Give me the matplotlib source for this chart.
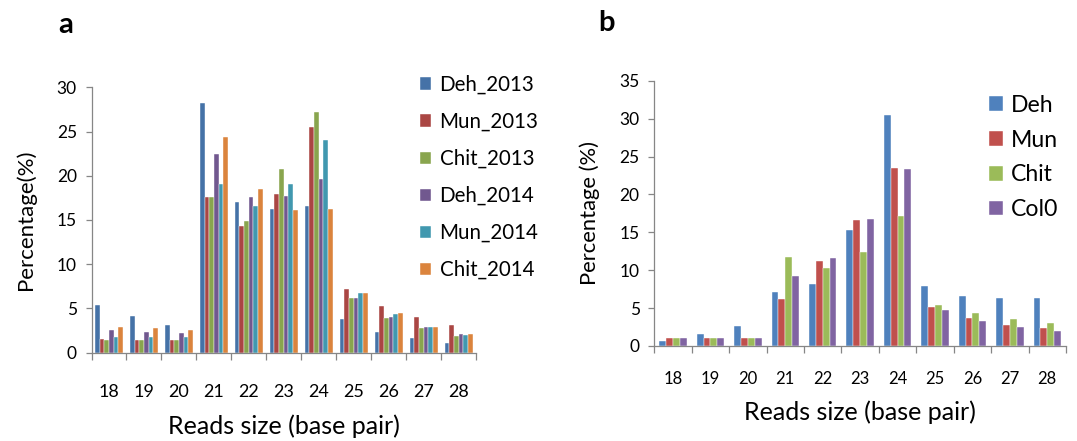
import numpy as np
import matplotlib
matplotlib.use("Agg")
import matplotlib.pyplot as plt
from matplotlib.ticker import FixedLocator, NullFormatter

plt.rcParams['font.family'] = ['Lato', 'DejaVu Sans']

# Read lengths (base pairs)
sizes = ['18', '19', '20', '21', '22', '23', '24', '25', '26', '27', '28']

# Panel a: percentage of reads per size, by site and year
deh_2013 = [5.4, 4.1, 3.13, 28.27, 17.0, 16.21, 16.58, 3.81, 2.34, 1.62, 1.09]
mun_2013 = [1.5, 1.43, 1.47, 17.56, 14.36, 17.94, 25.56, 7.2, 5.28, 4.07, 3.13]
chit_2013 = [1.43, 1.4, 1.4, 17.56, 14.93, 20.8, 27.25, 6.18, 3.92, 2.79, 1.92]
deh_2014 = [2.5, 2.34, 2.19, 22.43, 17.56, 17.72, 19.64, 6.18, 4.07, 2.83, 2.07]
mun_2014 = [1.7, 1.7, 1.7, 19.07, 16.55, 19.04, 24.05, 6.71, 4.33, 2.86, 1.96]
chit_2014 = [2.94, 2.75, 2.53, 24.43, 18.47, 16.1, 16.25, 6.71, 4.5, 2.94, 2.07]
labels_a = ['Deh_2013', 'Mun_2013', 'Chit_2013', 'Deh_2014', 'Mun_2014', 'Chit_2014']
colors_a = ['#4572A7', '#AA4643', '#89A54E', '#71588F', '#4198AF', '#DB843D']

# Panel b: percentage of reads per size, by site
deh = [0.62, 1.63, 2.6, 7.13, 8.14, 15.31, 30.44, 7.92, 6.56, 6.34, 6.34]
mun = [1.01, 1.0, 1.06, 6.16, 11.22, 16.59, 23.54, 5.19, 3.65, 2.82, 2.38]
chit = [1.01, 1.0, 1.0, 11.75, 10.25, 12.41, 17.16, 5.46, 4.31, 3.56, 2.99]
col0 = [1.06, 1.06, 1.06, 9.24, 11.61, 16.81, 23.4, 4.75, 3.3, 2.55, 2.02]
labels_b = ['Deh', 'Mun', 'Chit', 'Col0']
colors_b = ['#4F81BD', '#C0504D', '#9BBB59', '#8064A2']

series_a = [deh_2013, mun_2013, chit_2013, deh_2014, mun_2014, chit_2014]
series_b = [deh, mun, chit, col0]

W, H = 1077, 441
fig = plt.figure(figsize=(W / 100, H / 100), dpi=100)

def px_axes(left, top, right, bottom):
    return fig.add_axes([left / W, 1 - bottom / H, (right - left) / W, (bottom - top) / H])

ax_a = px_axes(91.5, 87.3, 476, 352.5)
ax_b = px_axes(654.3, 80.8, 1066, 346)

spine_col = '#868686'

def grouped_bars(ax, series, colors, labels, group_frac):
    n = len(series)
    x = np.arange(len(sizes))
    w = group_frac / n
    for i, (vals, c, lab) in enumerate(zip(series, colors, labels)):
        off = (i - (n - 1) / 2) * w
        ax.bar(x + off, vals, width=w, color=c, edgecolor='white',
               linewidth=0.3, label=lab, zorder=2)
    ax.set_xlim(-0.5, len(sizes) - 0.5)
    ax.set_xticks(x)
    ax.set_xticklabels(sizes)
    ax.xaxis.set_minor_locator(FixedLocator(np.arange(-0.5, len(sizes), 1.0)))
    ax.xaxis.set_minor_formatter(NullFormatter())
    for s in ['top', 'right']:
        ax.spines[s].set_visible(False)
    for s in ['left', 'bottom']:
        ax.spines[s].set_color(spine_col)
        ax.spines[s].set_linewidth(0.9)
    ax.tick_params(axis='x', which='major', length=0)
    ax.tick_params(axis='x', which='minor', length=5, width=0.9, color=spine_col, direction='out')
    ax.tick_params(axis='y', which='major', length=4.5, width=0.9, color=spine_col, direction='out')

grouped_bars(ax_a, series_a, colors_a, labels_a, 0.8)
ax_a.set_ylim(0, 30)
ax_a.set_yticks(range(0, 31, 5))
ax_a.tick_params(axis='y', labelsize=12.5, pad=6)
ax_a.tick_params(axis='x', which='major', labelsize=13, pad=23)
ax_a.set_ylabel('Percentage(%)', fontsize=16)
ax_a.set_xlabel('Reads size (base pair)', fontsize=18, labelpad=10)
ax_a.yaxis.set_label_coords(-0.144, 0.5)
ax_a.legend(loc='center left', bbox_to_anchor=(420 / W, 1 - 177.5 / H),
            bbox_transform=fig.transFigure, frameon=False, fontsize=14.8,
            handlelength=0.55, handleheight=0.55, handletextpad=0.4,
            labelspacing=0.83, borderpad=0, borderaxespad=0)

grouped_bars(ax_b, series_b, colors_b, labels_b, 0.73)
ax_b.set_ylim(0, 35)
ax_b.set_yticks(range(0, 36, 5))
ax_b.tick_params(axis='y', labelsize=12.5, pad=6)
ax_b.tick_params(axis='x', which='major', labelsize=12, pad=18)
ax_b.set_ylabel('Percentage (%)', fontsize=15.8)
ax_b.set_xlabel('Reads size (base pair)', fontsize=18, labelpad=10)
ax_b.yaxis.set_label_coords(-0.132, 0.5)
ax_b.legend(loc='center left', bbox_to_anchor=(989 / W, 1 - 157.5 / H),
            bbox_transform=fig.transFigure, frameon=False, fontsize=16.6,
            handlelength=0.6, handleheight=0.6, handletextpad=0.35,
            labelspacing=0.6, borderpad=0, borderaxespad=0)

fig.text(66 / W, 1 - 25 / H, 'a', fontsize=21, fontweight='bold', ha='center', va='center')
fig.text(607 / W, 1 - 23 / H, 'b', fontsize=21, fontweight='bold', ha='center', va='center')

fig.savefig('out.png', dpi=100)
